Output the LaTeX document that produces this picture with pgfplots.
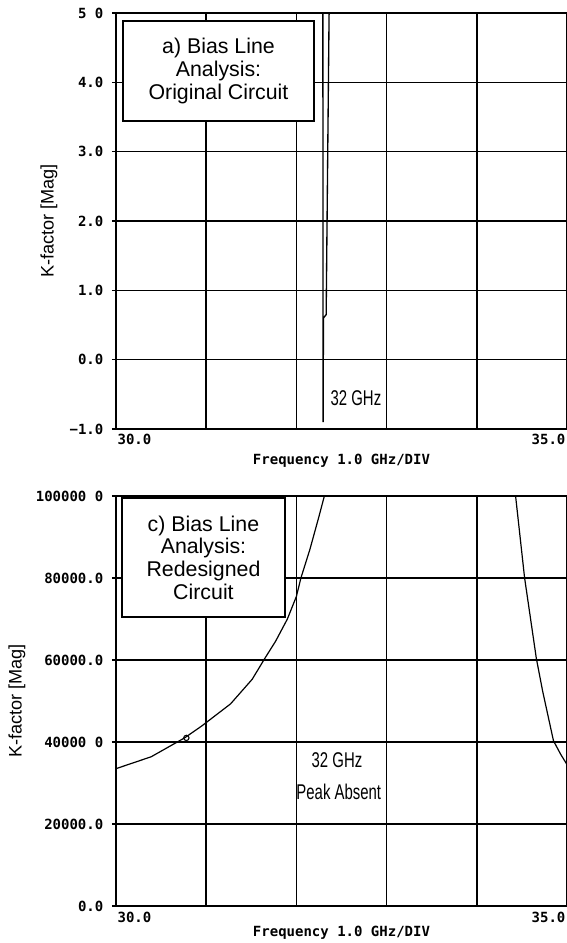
\documentclass[border=0pt]{standalone}
\usepackage{pgfplots}
\pgfplotsset{compat=1.18}
\usepackage{fontspec}
\setmainfont{Liberation Sans}
\newfontfamily\plotfont{DejaVu Sans Mono Bold}
\newfontfamily\narrowfont[FakeStretch=0.7]{Liberation Sans}

\pgfplotsset{
 hpstyle/.style={
  scale only axis, width=338.25pt,
  xmin=30, xmax=35,
  axis line style={line width=1.5pt},
  grid=major, grid style={black, line width=1.2pt},
  xtick={30,31,32,33,34}, xticklabels={30.0},
  extra x ticks={35}, extra x tick labels={35.0},
  extra x tick style={grid=none, xticklabel style={anchor=north east}},
  xticklabel style={anchor=north west, font=\plotfont\fontsize{10.5}{12}\selectfont, inner sep=1pt},
  xtick style={draw=none},
  tick align=outside, major tick length=3pt,
  ytick style={black, line width=1pt},
  yticklabel style={font=\plotfont\fontsize{10.5}{12}\selectfont, xshift=-3pt},
  every axis x label/.style={at={(axis description cs:0.5,0)}, anchor=center, font=\plotfont\fontsize{10.5}{12}\selectfont},
  xlabel={Frequency 1.0 GHz/DIV},
  ylabel={K-factor [Mag]},
 }
}

\begin{document}
\begin{tikzpicture}
\useasboundingbox (0pt,0pt) rectangle (425.25pt,-707.25pt);
% top panel
\begin{axis}[hpstyle, at={(87pt,-9.75pt)}, anchor=north west, height=312pt,
  ymin=-1, ymax=5, ytick={-1,0,1,2,3,4,5},
  yticklabels={−1.0,0.0,1.0,2.0,3.0,4.0,5 0},
  every axis y label/.style={at={(axis description cs:-0.1486,0.5)}, anchor=center, rotate=90, font=\fontsize{13.6}{15}\selectfont},
  every axis x label/.append style={yshift=-24pt}]
 \addplot[black, line width=1pt] coordinates {
  (32.293,6) (32.296,-0.9) (32.300,0.6) (32.33,0.65) (32.34,2.0) (32.355,4.0) (32.37,6)};
 \node[draw, line width=1.5pt, fill=white, minimum width=143.25pt, minimum height=75pt,
   anchor=north west, align=center, inner sep=0pt, font=\fontsize{16}{17}\selectfont]
   at (rel axis cs:0.0133,0.983) {a) Bias Line\\Analysis:\\Original Circuit};
 \node[font=\narrowfont\fontsize{16}{17}\selectfont] at (axis cs:32.66,-0.553) {32 GHz};
\end{axis}
% bottom panel
\begin{axis}[hpstyle, at={(87pt,-372pt)}, anchor=north west, height=307.5pt,
  ymin=0, ymax=100000, ytick={0,20000,40000,60000,80000,100000},
  yticklabels={0.0,20000.0,40000 0,60000.0,80000.0,100000 0},
  scaled y ticks=false,
  every axis y label/.style={at={(axis description cs:-0.2195,0.5)}, anchor=center, rotate=90, font=\fontsize{13.6}{15}\selectfont},
  every axis x label/.append style={yshift=-20pt}]
 \addplot[black, line width=0.9pt] coordinates {
  (30.0,33500) (30.39,36400) (30.76,41000) (30.95,43900) (31.27,49300)
  (31.51,55300) (31.65,60400) (31.77,64600) (31.9,70000) (32.0,75500)
  (32.05,80000) (32.15,87000) (32.25,95000) (32.31,100000) (32.35,103000)};
 \addplot[black, line width=0.9pt] coordinates {
  (34.40,103000) (34.43,100000) (34.53,80000) (34.66,60400) (34.73,52400)
  (34.85,40300) (34.93,37000) (35.0,34500)};
 \addplot[black, only marks, mark=o, mark size=2pt, line width=0.8pt] coordinates {(30.78,41000)};
 \node[draw, line width=1.5pt, fill=white, minimum width=122.25pt, minimum height=89.25pt,
   anchor=north west, align=center, inner sep=0pt, font=\fontsize{16}{17}\selectfont]
   at (rel axis cs:0.011,0.9976) {c) Bias Line\\Analysis:\\Redesigned\\Circuit};
 \node[font=\narrowfont\fontsize{16}{17}\selectfont] at (axis cs:32.45,35600) {32 GHz};
 \node[font=\narrowfont\fontsize{16}{17}\selectfont] at (axis cs:32.47,27800) {Peak Absent};
\end{axis}
\end{tikzpicture}
\end{document}
